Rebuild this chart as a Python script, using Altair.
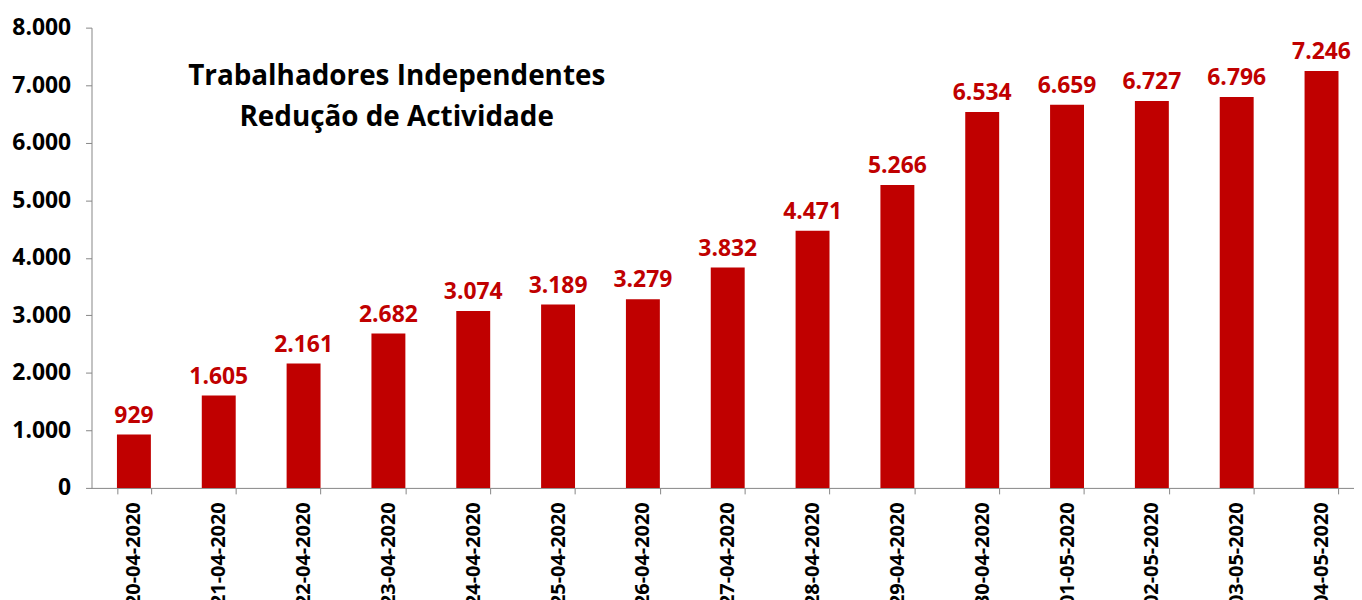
import altair as alt
import pandas as pd

dates = ["20-04-2020", "21-04-2020", "22-04-2020", "23-04-2020", "24-04-2020",
         "25-04-2020", "26-04-2020", "27-04-2020", "28-04-2020", "29-04-2020",
         "30-04-2020", "01-05-2020", "02-05-2020", "03-05-2020", "04-05-2020"]
values = [929, 1605, 2161, 2682, 3074, 3189, 3279, 3832, 4471, 5266,
          6534, 6659, 6727, 6796, 7246]
title_lines = ["Trabalhadores Independentes", "Redução de Actividade"]

df = pd.DataFrame({"data": dates, "valor": values})

RED = "#C00000"
FONT = "Open Sans"
fmt_expr = "replace(format(datum.value, ','), ',', '.')"

x = alt.X("data:N", sort=dates, title=None,
          scale=alt.Scale(paddingInner=0.6, paddingOuter=0.3),
          axis=alt.Axis(labelAngle=270, labelFont=FONT, labelFontWeight="bold",
                        labelFontSize=20, labelColor="black", labelPadding=8,
                        tickBand="extent", tickSize=6, tickColor="#868686",
                        domainColor="#868686", labelBaseline="middle"))
y = alt.Y("valor:Q", title=None,
          scale=alt.Scale(domain=[0, 8000], nice=False),
          axis=alt.Axis(values=list(range(0, 8001, 1000)), labelExpr=fmt_expr,
                        labelFont=FONT, labelFontWeight="bold", labelFontSize=23,
                        labelColor="black", labelPadding=15, tickSize=6,
                        tickColor="#868686", domainColor="#868686", grid=False))

bars = alt.Chart(df).mark_bar(color=RED).encode(x=x, y=y)

labels = alt.Chart(df).transform_calculate(
    lbl="replace(format(datum.valor, ','), ',', '.')"
).mark_text(color=RED, font=FONT, fontWeight="bold", fontSize=23,
            baseline="bottom", dy=-7).encode(
    x=alt.X("data:N", sort=dates), y="valor:Q", text="lbl:N")

title_df = pd.DataFrame({"t": ["\n".join(title_lines)]})
title = alt.Chart(title_df).mark_text(
    font=FONT, fontWeight="bold", fontSize=28, color="black",
    lineBreak="\n", lineHeight=41, align="center", baseline="middle"
).encode(x=alt.value(307), y=alt.value(50), text="t:N")

chart = alt.layer(bars, labels, title).properties(
    width=1280, height=463,
    autosize=alt.AutoSizeParams(type="none"),
    padding={"left": 84, "top": 18, "right": -10, "bottom": 111},
).configure_view(stroke=None)

chart.save("out.html", embed_options={"renderer": "svg", "actions": False})
